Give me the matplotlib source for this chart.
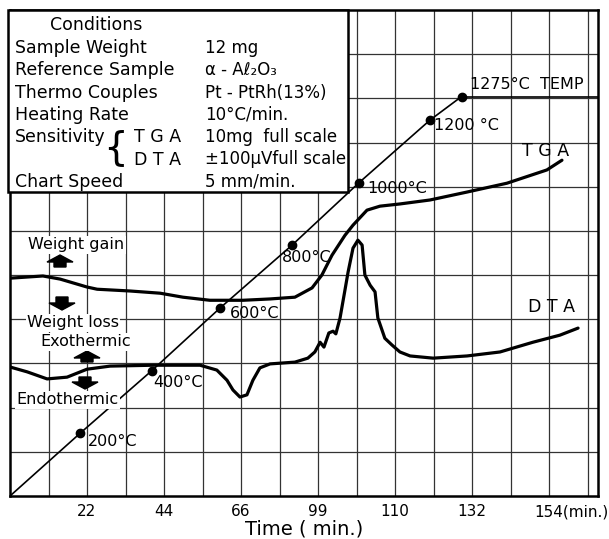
import numpy as np
import matplotlib.pyplot as plt
from matplotlib.patches import Rectangle, Polygon
from matplotlib.transforms import Affine2D, ScaledTranslation

# --- data (time in min) ---
tga_t = [0, 9.4, 14.3, 22, 24.9, 34.3, 42.9, 49.4, 57.1, 66.6, 74.3, 81.4, 86.3,
         89.1, 92.0, 95.7, 98.0, 102, 105.7, 111.4, 120, 130.6, 142, 153.4, 157.7]
tga_v = [4.93, 4.98, 4.91, 4.73, 4.68, 4.64, 4.59, 4.50, 4.43, 4.43, 4.46, 4.50, 4.71,
         5.0, 5.45, 5.90, 6.13, 6.47, 6.56, 6.61, 6.70, 6.88, 7.08, 7.38, 7.60]

dta_t = [0, 4.9, 10.6, 16.3, 22, 28.6, 40.9, 54.3, 59.1, 62.0, 63.7, 65.7, 67.7, 69.4,
         71.4, 74.3, 81.4, 85.1, 87.1, 88.6, 89.7, 91.1, 92.3, 93.1, 94.3, 95.7, 96.6,
         98.0, 99.4, 100.6, 101.4, 102.9, 104.3, 105.1, 107.1, 109.1, 111.4, 114.3,
         120.9, 130.6, 140, 149.4, 157.1, 162.3]
dta_v = [2.92, 2.81, 2.65, 2.69, 2.87, 2.94, 2.96, 2.96, 2.85, 2.62, 2.40, 2.24, 2.29, 2.62,
         2.90, 2.99, 3.03, 3.12, 3.26, 3.48, 3.37, 3.69, 3.73, 3.67, 4.03, 4.66, 5.07,
         5.61, 5.79, 5.68, 5.0, 4.77, 4.62, 4.03, 3.57, 3.42, 3.26, 3.17,
         3.12, 3.17, 3.26, 3.48, 3.64, 3.80]

temp_t = [0, 20, 40.5, 60, 80.5, 99.7, 120, 129]
temp_c = [0, 200, 400, 600, 800, 1000, 1200, 1275]
temp_labels = ["200°C", "400°C", "600°C", "800°C", "1000°C", "1200 °C", "1275°C  TEMP"]
temp_offsets = [(8, -8), (1, -12), (10, -5), (-10, -12), (8, -6), (4, -5), (9, 12)]

tick_pos = [22, 44, 66, 88, 110, 132, 154]
tick_lab = ["22", "44", "66", "99", "110", "132", "154(min.)"]

cond_names = ["Sample Weight", "Reference Sample", "Thermo Couples", "Heating Rate",
              "Sensitivity", "", "Chart Speed"]
cond_vals = ["12 mg", "α - Aℓ₂O₃", "Pt - PtRh(13%)", "10°C/min.",
             "10mg  full scale", "±100μVfull scale", "5 mm/min."]

W, H = 609, 539
fig = plt.figure(figsize=(W / 100, H / 100), dpi=100)
plt.rcParams['font.family'] = ['DejaVu Sans']
px = Affine2D().scale(1 / W, -1 / H).translate(0, 1) + fig.transFigure

ax = fig.add_axes([10 / W, 1 - 496 / H, 588 / W, 486 / H])
ax.set_xlim(0, 168)
ax.set_ylim(0, 11)
ax.set_xticks(tick_pos)
ax.set_xticklabels(tick_lab, fontsize=11)
ax.set_xticks(np.arange(11, 168, 11), minor=True)
ax.set_yticks(np.arange(1, 11))
ax.set_yticklabels([])
ax.tick_params(which='both', length=0, pad=6)
ax.grid(which='both', color='0.2', lw=0.9)
ax.set_axisbelow(True)
for s in ax.spines.values():
    s.set_linewidth(1.8)
last = ax.get_xticklabels()[-1]
last.set_ha('left')
last.set_transform(last.get_transform() + ScaledTranslation(-0.15, 0, fig.dpi_scale_trans))
ax.set_xlabel("Time ( min.)", fontsize=14, labelpad=0)

ax.plot(tga_t, tga_v, color='k', lw=2.3, solid_joinstyle='round', solid_capstyle='round')
ax.plot(dta_t, dta_v, color='k', lw=2.3, solid_joinstyle='round', solid_capstyle='round')
ax.text(152.9, 7.81, "T G A", fontsize=12.5, ha='center', va='center')
ax.text(154.6, 4.28, "D T A", fontsize=12.5, ha='center', va='center')

# temperature on its own scale
ax2 = ax.twinx()
ax2.set_ylim(0, 11 / 0.00709)
ax2.axis('off')
ax2.plot(temp_t, temp_c, color='k', lw=1.2)
ax2.plot(temp_t[1:], temp_c[1:], 'o', color='k', ms=6)
ax2.hlines(temp_c[-1], temp_t[-1], 168, color='k', lw=1.2)
for tt, tc, lab, off in zip(temp_t[1:], temp_c[1:], temp_labels, temp_offsets):
    ax2.annotate(lab, (tt, tc), xytext=off, textcoords='offset pixels',
                 fontsize=11.5, ha='left', va='center')

# conditions box
fig.add_artist(Rectangle((8, 10), 340, 182, transform=px, facecolor='white',
                         edgecolor='k', lw=1.8, zorder=5))
fig.text(50 / W, 1 - 25 / H, "Conditions", fontsize=12.5, va='center', zorder=6)
for i, (nm, val) in enumerate(zip(cond_names, cond_vals)):
    y = 1 - (48 + i * 22.3) / H
    fig.text(15 / W, y, nm, fontsize=12.5, va='center', zorder=6)
    fig.text(205 / W, y, val, fontsize=12, va='center', zorder=6)
fig.text(181 / W, 1 - 137 / H, "T G A", fontsize=12.5, va='center', ha='right', zorder=6)
fig.text(181 / W, 1 - 160 / H, "D T A", fontsize=12.5, va='center', ha='right', zorder=6)
fig.text(103 / W, 1 - 148 / H, "{", fontsize=28, va='center', ha='left', zorder=6)

# side notes and block arrows
notes = [("Weight gain", 76, 245), ("Weight loss", 73, 323),
         ("Exothermic", 86, 342), ("Endothermic", 67, 400)]
for txt, x, y in notes:
    fig.text(x / W, 1 - y / H, txt, fontsize=11.5, ha='center', va='center', zorder=4,
             bbox=dict(facecolor='white', edgecolor='none', pad=1))


def block_arrow(cx, top, bot, up=True):
    hw, sw, hh = 13, 6, 7
    if up:
        pts = [(cx, top), (cx + hw, top + hh), (cx + sw, top + hh), (cx + sw, bot),
               (cx - sw, bot), (cx - sw, top + hh), (cx - hw, top + hh)]
    else:
        pts = [(cx, bot), (cx + hw, bot - hh), (cx + sw, bot - hh), (cx + sw, top),
               (cx - sw, top), (cx - sw, bot - hh), (cx - hw, bot - hh)]
    fig.add_artist(Polygon(pts, closed=True, transform=px, color='k', zorder=4))


block_arrow(60, 255, 267, up=True)
block_arrow(62, 297, 310, up=False)
block_arrow(87, 351, 362, up=True)
block_arrow(85, 377, 389, up=False)

fig.savefig("out.png", dpi=100)
